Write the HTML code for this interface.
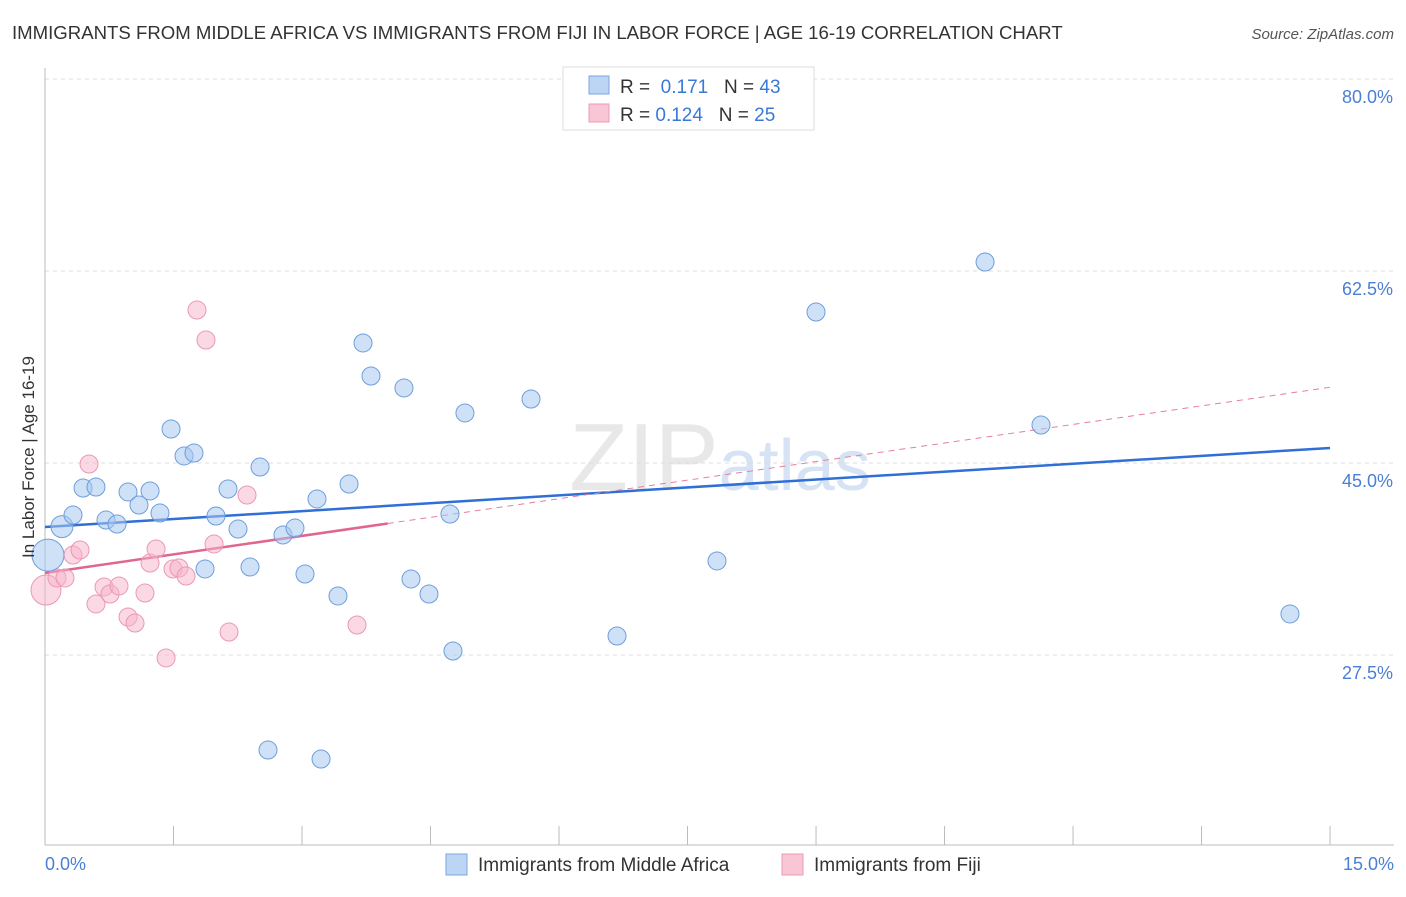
<!DOCTYPE html>
<html><head><meta charset="utf-8"><style>
body{margin:0;background:#fff;font-family:"Liberation Sans",sans-serif;}
svg text{font-family:"Liberation Sans",sans-serif;}
</style></head><body>
<svg id="chart" width="1406" height="892" xmlns="http://www.w3.org/2000/svg">
<text x="12" y="39" font-size="18.6" fill="#333">IMMIGRANTS FROM MIDDLE AFRICA VS IMMIGRANTS FROM FIJI IN LABOR FORCE | AGE 16-19 CORRELATION CHART</text>
<text x="1394" y="39" font-size="15" fill="#555" text-anchor="end" font-style="italic">Source: ZipAtlas.com</text>
<text x="720" y="490" font-size="96" fill="#e8e8e8" text-anchor="middle" font-family="Liberation Serif">ZIP<tspan fill="#d6e3f5" font-family="Liberation Sans" font-size="72">atlas</tspan></text>
<g id="grid"></g>
<g id="axes"></g>
<g id="lines"></g>
<g id="points"></g>
<text transform="translate(34,457) rotate(-90)" font-size="17" fill="#333" text-anchor="middle">In Labor Force | Age 16-19</text>
<text x="45" y="870" font-size="18" fill="#4a7fd4">0.0%</text>
<text x="1394" y="870" font-size="18" fill="#4a7fd4" text-anchor="end">15.0%</text>
<g>
<rect x="563" y="67" width="251" height="63" fill="#fff" stroke="#ddd"/>
<rect x="589" y="76" width="20" height="18" fill="#bcd5f5" stroke="#7aa6e0"/>
<rect x="589" y="104" width="20" height="18" fill="#f9c6d5" stroke="#eb9bb6"/>
<text x="620" y="93" font-size="19" fill="#333">R = <tspan fill="#3a78d8">&#160;0.171</tspan>&#160;&#160;&#160;N = <tspan fill="#3a78d8">43</tspan></text>
<text x="620" y="121" font-size="19" fill="#333">R = <tspan fill="#3a78d8">0.124</tspan>&#160;&#160;&#160;N = <tspan fill="#3a78d8">25</tspan></text>
</g>
<g>
<rect x="446" y="854" width="21" height="21" fill="#bcd5f5" stroke="#7aa6e0"/>
<text x="478" y="871" font-size="19" fill="#333">Immigrants from Middle Africa</text>
<rect x="782" y="854" width="21" height="21" fill="#f9c6d5" stroke="#eb9bb6"/>
<text x="814" y="871" font-size="19" fill="#333">Immigrants from Fiji</text>
</g>
</svg>
<script>
const yTicks=[80,62.5,45,27.5];
const yTickLabels=["80.0%","62.5%","45.0%","27.5%"];
const xTickVals=[0,1.5,3,4.5,6,7.5,9,10.5,12,13.5,15];
const blueX=[0.035,0.198,0.327,0.444,0.595,0.712,0.841,0.969,1.097,1.226,1.342,1.471,1.623,1.739,1.868,1.996,2.136,2.253,2.393,2.510,2.778,2.918,3.035,3.175,3.420,3.549,3.712,3.805,4.190,4.272,4.482,4.727,4.762,4.902,5.673,6.677,7.844,9.000,10.973,11.626,14.532,2.603,3.222];
const blueY=[36.6,39.2,40.26,42.72,42.81,39.8,39.44,42.36,41.17,42.45,40.44,48.1,45.64,45.91,35.34,40.17,42.63,38.98,35.52,44.63,38.44,39.07,34.88,41.72,32.88,43.08,55.94,52.93,51.84,34.43,33.06,40.35,27.86,49.56,50.83,29.23,36.07,58.76,63.32,48.46,31.24,18.84,18.02];
const pinkX=[0.012,0.14,0.233,0.327,0.409,0.514,0.595,0.689,0.759,0.864,0.969,1.051,1.167,1.226,1.296,1.413,1.494,1.564,1.646,1.774,1.879,1.973,2.148,2.358,3.642];
const pinkY=[33.42,34.52,34.52,36.61,37.07,44.91,32.15,33.7,33.06,33.79,30.96,30.41,33.15,35.88,37.16,27.23,35.34,35.43,34.7,58.94,56.21,37.62,29.59,42.08,30.23];
const blueTrend=[39.17,46.37];
const pinkTrend=[34.97,51.9];
const pinkSolidEnd=4.0;

const NS="http://www.w3.org/2000/svg";
const X=v=>45+v*85.67;
const Y=v=>79+(80-v)*10.971;
function mk(tag,attrs,parent){const e=document.createElementNS(NS,tag);for(const k in attrs)e.setAttribute(k,attrs[k]);parent.appendChild(e);return e;}
const grid=document.getElementById('grid'),axes=document.getElementById('axes'),lines=document.getElementById('lines'),pts=document.getElementById('points');
yTicks.forEach((t,i)=>{
 const l=mk('line',{x1:45,x2:1394,y1:Y(t),y2:Y(t),stroke:'#ddd','stroke-dasharray':'4,4'},grid);
 
 
 const tx=mk('text',{x:1393,y:Y(t)+24,'font-size':18,fill:'#4a7fd4','text-anchor':'end'},grid);
 tx.textContent=yTickLabels[i];
 
 
});
const ya=mk('line',{x1:45,x2:45,y1:68,y2:845,stroke:'#bbb'},axes);


const xa=mk('line',{x1:45,x2:1394,y1:845,y2:845,stroke:'#bbb'},axes);


xTickVals.forEach(v=>{
 const t=mk('line',{x1:X(v),x2:X(v),y1:826,y2:845,stroke:'#bbb'},axes);
 
 
});
function trendAt(tr,x){return tr[0]+(tr[1]-tr[0])*x/15;}
const bl=mk('line',{x1:X(0),y1:Y(blueTrend[0]),x2:X(15),y2:Y(blueTrend[1]),stroke:'#2f6fd6','stroke-width':2.5},lines);


const pd=mk('line',{x1:X(pinkSolidEnd),y1:Y(trendAt(pinkTrend,pinkSolidEnd)),x2:X(15),y2:Y(pinkTrend[1]),stroke:'#e57ea0','stroke-width':1,'stroke-dasharray':'6,5'},lines);


const ps=mk('line',{x1:X(0),y1:Y(pinkTrend[0]),x2:X(pinkSolidEnd),y2:Y(trendAt(pinkTrend,pinkSolidEnd)),stroke:'#e06690','stroke-width':2.5},lines);


pinkX.forEach((x,i)=>{
 const c=mk('circle',{cx:X(x),cy:Y(pinkY[i]),r:i===0?15:9,fill:'rgba(246,180,201,0.5)',stroke:'#eb98b4','stroke-width':1},pts);
 
 
});
blueX.forEach((x,i)=>{
 const c=mk('circle',{cx:X(x),cy:Y(blueY[i]),r:i===0?16:(i===1?11:9),fill:'rgba(168,200,240,0.55)',stroke:'#6e9edc','stroke-width':1},pts);
 
 
});
</script>
</body></html>
